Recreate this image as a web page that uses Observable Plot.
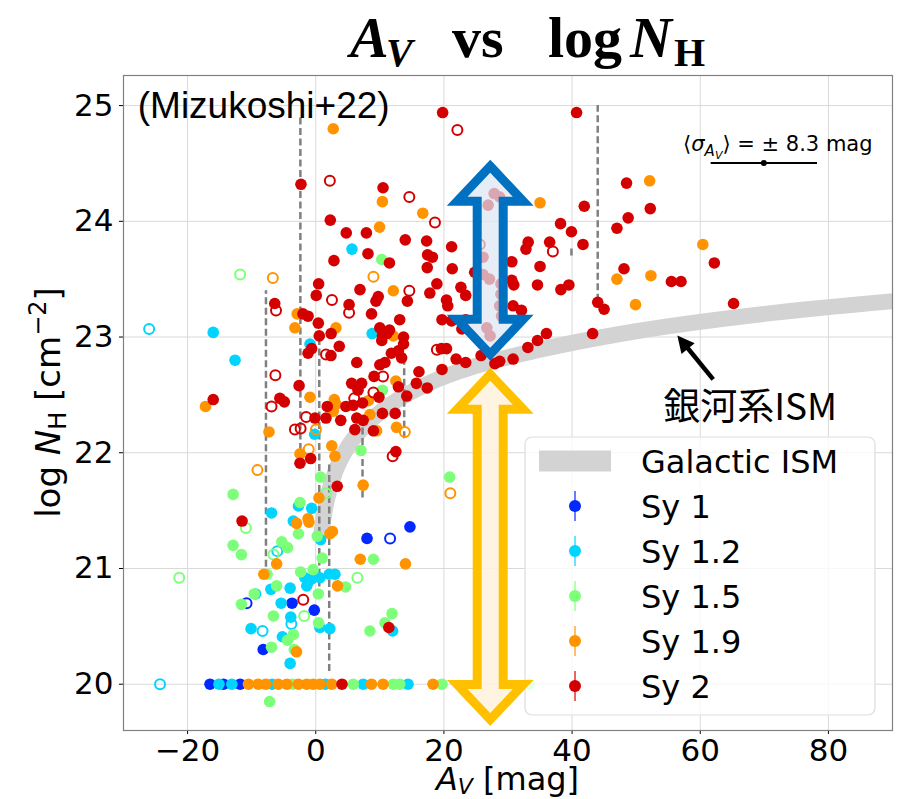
<!DOCTYPE html>
<html>
<head>
<meta charset="utf-8">
<script src="https://cdn.jsdelivr.net/npm/d3@7"></script>
<script src="https://cdn.jsdelivr.net/npm/@observablehq/plot@0.6"></script>
<style>
  body { margin: 0; background: #fff; }
  #chart svg { display: block; }
</style>
</head>
<body>
<div id="chart"></div>
<script>
// ---- axis ticks ----
const xTicks = [-20, 0, 20, 40, 60, 80];
const yTicks = [20, 21, 22, 23, 24, 25];

// ---- AGN samples: [A_V (mag), log N_H (cm^-2)] ----
const sy1 = [[-16.5,20],[-14.4,20],[-11.8,20],[8.0,21.26],[14.7,21.36],[-3.7,20.70],[-0.23,20.64],[-8.2,20.30]];
const sy1Open = [[11.6,21.26],[-10.8,20.70]];

const sy12 = [[-16.0,23.04],[-12.6,22.80],[5.65,23.76],[8.8,23.03],[-0.9,22.94],[-0.17,22.16],[-6.9,21.48],
  [-2.7,21.54],[-3.5,21.41],[-0.64,21.52],[0.76,21.25],[-1.7,20.92],[-0.64,20.91],[0.65,20.92],[2.1,20.95],
  [3.0,20.95],[-1.4,20.85],[-1.2,20.88],[-7.0,20.82],[-4.0,20.83],[-9.4,20.78],[-5.4,20.70],[-3.9,20.58],
  [0.65,20.49],[2.2,20.48],[-10.1,20.48],[12.0,20.46],[-5.2,20.41],[-4.0,20.18],
  [-15.1,20],[-13.1,20],[-6.8,20],[1.5,20],[7.4,20],[14.4,20]];
const sy12Open = [[-26.0,23.07],[-24.3,20],[-6.0,21.15],[-8.3,20.46],[-3.8,20.52]];

const sy15 = [[10.3,23.67],[10.4,22.54],[7.05,22.02],[0.76,21.79],[20.9,21.79],[-2.46,21.57],[-12.9,21.64],
  [-2.7,21.30],[0.23,21.28],[-12.9,21.20],[-11.6,21.12],[-5.3,21.23],[-4.4,21.18],[1.0,21.09],[9.0,21.08],
  [-7.6,20.95],[-2.36,20.97],[-0.4,20.99],[4.66,20.84],[-6.1,20.85],[-9.6,20.78],[-11.6,20.69],[0.4,20.78],
  [-6.6,20.59],[0.45,20.53],[8.45,20.46],[11.9,20.61],[10.8,20.53],[-3.5,20.43],[-4.4,20.38],[-6.9,20.32],
  [-3.35,20.30],[-7.2,19.85],
  [-3.6,20],[5.85,20],[12.1,20],[13.1,20],[19.7,20],[33.3,20]];
const sy15Open = [[-11.8,23.54],[1.6,21.65],[-10.9,21.35],[-6.6,21.12],[6.5,20.92],[-1.8,20.59],[-21.3,20.92]];

const sy19 = [[2.73,24.80],[10.4,24.17],[9.96,23.95],[16.7,24.07],[12.1,23.40],[-2.9,23.20],[-3.25,23.08],
  [3.15,23.08],[12.1,23.01],[12.5,22.62],[-0.9,22.48],[2.9,22.46],[3.15,22.42],[2.73,22.36],[8.2,22.45],
  [8.45,22.33],[9.5,22.19],[12.6,22.22],[-7.3,22.18],[-17.2,22.40],[-2.46,21.99],[2.5,22.06],[3.0,21.97],
  [7.4,21.72],[0.5,21.61],[-3.0,21.39],[-1.2,21.43],[-1.06,21.40],[2.2,21.30],[2.6,21.32],[-6.1,21.04],
  [6.95,21.08],[14.0,21.04],[-8.1,20.95],[3.4,20.85],[-3.0,20.28],
  [35.0,24.16],[52.1,24.35],[47.0,23.50],[52.3,23.53],[49.9,23.28],[60.4,23.80],
  [-10.5,20],[-9.0,20],[-7.8,20],[-5.85,20],[-4.5,20],[-2.7,20],[-1.4,20],[-0.4,20],[0.65,20],[2.5,20],
  [8.7,20],[10.5,20],[18.3,20]];
const sy19Open = [[-6.7,23.51],[9.0,23.52],[13.9,22.18],[0.03,22.20],[-1.1,22.03],[-9.1,21.85],[21.0,21.65]];

const sy2 = [[-2.31,24.32],[10.5,24.29],[2.27,24.01],[4.76,23.90],[7.9,23.90],[13.97,23.84],[8.15,23.72],
  [2.84,23.66],[11.5,23.64],[0.45,23.46],[0.08,23.36],[6.9,23.41],[5.2,23.28],[9.75,23.35],[9.4,23.31],
  [14.3,23.31],[-6.4,23.29],[19.8,24.94],[40.7,24.94],
  [17.3,23.83],[21.2,23.78],[17.45,23.71],[18.2,23.69],[17.4,23.60],[21.3,23.59],
  [18.9,23.46],[17.8,23.38],[22.65,23.43],[23.4,23.36],[8.7,23.20],[20.4,23.32],[20.6,23.27],
  [-2.0,23.20],[-1.2,23.18],[0.4,23.12],[0.55,23.01],[2.4,23.03],
  [13.1,23.15],[19.7,23.15],[21.2,23.14],[23.4,23.15],
  [10.0,23.08],[11.5,23.06],[11.1,23.03],[10.4,23.01],[13.7,23.0],
  [-0.64,22.90],[-1.2,22.86],[2.37,22.84],[3.67,22.92],[10.3,22.97],[13.7,22.94],
  [11.8,22.86],[12.9,22.88],[13.4,22.82],[6.4,22.78],[10.0,22.76],[10.8,22.78],
  [19.6,22.90],[20.4,22.90],[21.9,22.81],[23.4,22.78],[19.7,22.72],[16.1,22.70],[9.1,22.66],
  [-2.6,22.58],[5.6,22.60],[7.16,22.60],[6.6,22.54],[6.5,22.57],
  [12.9,22.57],[15.7,22.60],[17.4,22.56],[14.2,22.49],[-5.6,22.47],[-4.9,22.44],[9.86,22.48],
  [1.8,22.40],[4.7,22.40],[5.85,22.41],[7.3,22.43],
  [-0.12,22.30],[1.6,22.30],[3.9,22.28],[6.4,22.30],[7.4,22.28],[10.4,22.34],[12.4,22.34],
  [6.1,22.20],[9.0,22.19],[-2.46,21.91],[-0.8,21.95],[12.5,22.01],[3.35,21.71],
  [-16.0,22.46],[-11.5,21.41],[11.4,20.49],[4.1,20],
  [22.8,23.07],[36.0,23.03],[34.6,22.97],[33.1,22.91],[30.8,22.81],[28.7,22.79],[27.96,22.77],[25.8,22.84],
  [43.2,23.03],[44.0,23.30],[45.0,23.24],[28.7,23.27],[30.8,23.27],[32.1,23.23],[29.0,23.18],
  [41.9,24.13],[48.5,24.33],[52.2,24.11],[48.75,24.03],[47.0,23.94],[38.2,23.98],[39.9,23.91],
  [41.7,23.80],[33.15,23.82],[32.8,23.76],[36.5,23.82],[30.6,23.65],[24.8,23.56],[35.0,23.61],
  [48.1,23.59],[55.5,23.48],[57.0,23.48],[30.6,23.49],[30.9,23.45],[34.6,23.45],[38.25,23.41],[39.5,23.45],
  [27.85,24.24],[26.9,24.14],[28.7,24.21],[26.1,23.69],[27.1,23.50],[26.1,23.54],[28.9,23.46],[28.9,23.37],
  [26.7,23.08],[27.2,23.01],[62.2,23.64],[65.2,23.29]];
const sy2Open = [[2.2,24.35],[14.6,24.21],[18.6,23.99],[14.6,23.40],[2.53,23.32],[5.2,23.21],[-6.2,23.23],
  [1.6,22.85],[18.9,22.89],[10.5,22.66],[-6.3,22.67],[9.0,22.52],[6.0,22.47],[-6.9,22.40],[-1.5,22.31],
  [-3.25,22.20],[-2.36,22.21],[12.0,21.97],[22.1,24.79],[37.0,23.74],[-1.95,20.73],[25.6,23.80]];

// ---- Galactic ISM relation, sampled along the band ----
const ismCurve = [[0.9,21.30],[1.0,21.35],[1.5,21.53],[2,21.65],[3,21.83],[5,22.05],[8,22.25],[12,22.43],
  [18,22.61],[25,22.75],[35,22.89],[50,23.05],[70,23.20],[90,23.31]];

// ---- dashed ranges: [A_V, log N_H low, log N_H high] ----
const rangeSegments = [[-7.77,21.01,23.40],[-2.4,22.02,24.90],[0.55,20.75,23.00],[2.1,20.11,21.90],
  [7.3,21.61,22.22],[13.8,22.12,22.82],[44.0,23.31,25.0],[39.9,23.70,23.78]];

// ---- annotations ----
const sigmaBar = {center: 70, halfWidth: 8.3, y: 24.5, labelY: 24.6};
const blueSpan = {x: 27.3, y1: 22.847, y2: 24.472};
const yellowSpan = {x: 27.3, y1: 19.691, y2: 22.674};
const ismPointer = {from: [62.1, 22.63], to: [56.5, 23.01]};
const ismLabel = {x: 54.3, y: 22.28, text: "銀河系ISM"};
const refLabel = {x: -27.7, y: 24.89, text: "(Mizukoshi+22)"};

const seriesNames = ["Sy 1", "Sy 1.2", "Sy 1.5", "Sy 1.9", "Sy 2"];
const seriesColors = ["#0028ff", "#00d4ff", "#7dff7a", "#ff9400", "#d40000"];
const seriesFilled = [sy1, sy12, sy15, sy19, sy2];
const seriesOpen = [sy1Open, sy12Open, sy15Open, sy19Open, sy2Open];

const px = d => d[0], py = d => d[1];

function addText(parent, attrs, parts) {
  const t = parent.append("text").attr("xml:space", "preserve").attr("text-anchor", "start");
  for (const [k, v] of Object.entries(attrs)) t.attr(k, v);
  for (const p of parts) {
    const s = t.append("tspan").text(p.t);
    if (p.italic) s.attr("font-style", "italic");
    if (p.size) s.attr("font-size", p.size);
    if (p.dy) s.attr("dy", p.dy);
    if (p.x != null) s.attr("x", p.x);
  }
  return t;
}

// Double-headed block arrow along a vertical data span
function blockArrow(g, scales, span, stroke, fill, fillOpacity) {
  const cx = scales.x(span.x), top = scales.y(span.y2), bot = scales.y(span.y1);
  const L = 35, H = 33, S = 13;
  const pts = [[cx, top], [cx + H, top + L], [cx + S, top + L], [cx + S, bot - L], [cx + H, bot - L],
    [cx, bot], [cx - H, bot - L], [cx - S, bot - L], [cx - S, top + L], [cx - H, top + L]];
  g.append("polygon").attr("points", pts.map(p => p.join(",")).join(" "))
    .attr("fill", fill).attr("fill-opacity", fillOpacity)
    .attr("stroke", stroke).attr("stroke-width", 9)
    .attr("stroke-linejoin", "miter").attr("stroke-miterlimit", 10);
}

function legendMark(index, scales, values, dims) {
  const g = d3.create("svg:g").attr("text-anchor", "start");
  const right = dims.width - dims.marginRight, bottom = dims.height - dims.marginBottom;
  const x0 = right - 367, y0 = bottom - 293;
  g.append("rect").attr("x", x0).attr("y", y0).attr("width", 350).attr("height", 278)
    .attr("rx", 7).attr("fill", "white").attr("fill-opacity", 0.8)
    .attr("stroke", "#dddddd").attr("stroke-width", 1.2);
  const rowY = i => y0 + 24 + 45 * i;
  g.append("rect").attr("x", x0 + 14).attr("y", rowY(0) - 10.5).attr("width", 72).attr("height", 21)
    .attr("fill", "#d3d3d3");
  g.append("text").attr("x", x0 + 116).attr("y", rowY(0) + 11.5).attr("font-size", 32)
    .attr("font-family", "DejaVu Sans").text("Galactic ISM");
  seriesNames.forEach((name, i) => {
    const cy = rowY(i + 1), hx = x0 + 50;
    g.append("line").attr("x1", hx).attr("x2", hx).attr("y1", cy - 15).attr("y2", cy + 15)
      .attr("stroke", seriesColors[i]).attr("stroke-opacity", 0.6).attr("stroke-width", 2);
    g.append("circle").attr("cx", hx).attr("cy", cy).attr("r", 6).attr("fill", seriesColors[i]);
    g.append("text").attr("x", x0 + 116).attr("y", cy + 11.5).attr("font-size", 32)
      .attr("font-family", "DejaVu Sans").text(name);
  });
  return g.node();
}

function annotationMark(index, scales, values, dims) {
  const g = d3.create("svg:g").attr("text-anchor", "start");
  const {x, y} = scales;
  const frameCx = (dims.marginLeft + dims.width - dims.marginRight) / 2;
  const frameCy = (dims.marginTop + dims.height - dims.marginBottom) / 2;

  // mean A_V uncertainty bar
  const sy = y(sigmaBar.y);
  g.append("line").attr("x1", x(sigmaBar.center - sigmaBar.halfWidth)).attr("x2", x(sigmaBar.center + sigmaBar.halfWidth))
    .attr("y1", sy).attr("y2", sy).attr("stroke", "black").attr("stroke-width", 2);
  g.append("circle").attr("cx", x(sigmaBar.center)).attr("cy", sy).attr("r", 3).attr("fill", "black");
  addText(g, {x: x(sigmaBar.center) + 14, y: y(sigmaBar.labelY), "text-anchor": "middle",
      "font-family": "DejaVu Sans", "font-size": 21}, [
    {t: "⟨"}, {t: "σ", italic: true}, {t: "A", italic: true, size: 15, dy: 5},
    {t: "V", italic: true, size: 11, dy: 3}, {t: "⟩ = ", dy: -8}, {t: "± 8.3 mag"}
  ]);

  // reference tag
  g.append("text").attr("x", x(refLabel.x)).attr("y", y(refLabel.y)).attr("font-family", "Liberation Sans")
    .attr("font-size", 37).text(refLabel.text);

  // block arrows
  blockArrow(g, scales, blueSpan, "#0070c0", "#dce6f2", 0.72);
  blockArrow(g, scales, yellowSpan, "#ffc000", "#fff2dc", 0.85);

  // pointer to the Galactic ISM band
  const [tx0, ty0] = [x(ismPointer.from[0]), y(ismPointer.from[1])];
  const [tx1, ty1] = [x(ismPointer.to[0]), y(ismPointer.to[1])];
  const dx = tx1 - tx0, dy = ty1 - ty0, len = Math.hypot(dx, dy);
  const ux = dx / len, uy = dy / len, hl = 17, hw = 8.5;
  const bx = tx1 - ux * hl, by = ty1 - uy * hl;
  g.append("line").attr("x1", tx0).attr("y1", ty0).attr("x2", bx + ux * 2).attr("y2", by + uy * 2)
    .attr("stroke", "black").attr("stroke-width", 4.5);
  g.append("polygon").attr("points", [[tx1, ty1], [bx - uy * hw, by + ux * hw], [bx + uy * hw, by - ux * hw]]
    .map(p => p.join(",")).join(" ")).attr("fill", "black");
  g.append("text").attr("x", x(ismLabel.x)).attr("y", y(ismLabel.y)).attr("font-family", "Noto Sans CJK JP")
    .attr("font-size", 37).text(ismLabel.text);

  // axis titles
  addText(g, {x: frameCx, y: dims.height - 9, "text-anchor": "middle", "font-family": "DejaVu Sans", "font-size": 32}, [
    {t: "A", italic: true}, {t: "V", italic: true, size: 22, dy: 4}, {t: " [mag]", dy: -4}
  ]);
  addText(g, {transform: `translate(60,${frameCy}) rotate(-90)`, x: 0, y: 0, "text-anchor": "middle",
      "font-family": "DejaVu Sans", "font-size": 34}, [
    {t: "log "}, {t: "N", italic: true}, {t: "H", size: 24, dy: 6}, {t: " [cm", dy: -6},
    {t: "−2", size: 24, dy: -14}, {t: "]", dy: 14}
  ]);

  // title
  addText(g, {y: 57, "font-family": "Liberation Serif", "font-weight": "bold", "font-size": 58}, [
    {t: "A", italic: true, x: 350}, {t: "V", italic: true, size: 40, dy: 9, x: 386},
    {t: "vs", dy: -9, x: 452}, {t: "log", x: 548}, {t: "N", italic: true, x: 630},
    {t: "H", size: 40, dy: 9, x: 674}
  ]);
  return g.node();
}

const dotMarks = [];
seriesFilled.forEach((data, i) => {
  dotMarks.push(Plot.dot(data, {x: px, y: py, r: 5.8, fill: seriesColors[i]}));
  dotMarks.push(Plot.dot(seriesOpen[i], {x: px, y: py, r: 5, fill: "none", stroke: seriesColors[i], strokeWidth: 2}));
});

const chart = Plot.plot({
  width: 900,
  height: 799,
  marginLeft: 123,
  marginRight: 8,
  marginTop: 75,
  marginBottom: 69,
  style: {fontFamily: "DejaVu Sans", fontSize: "31px", color: "black", background: "white"},
  x: {domain: [-30, 90], ticks: xTicks, tickSize: 4, tickPadding: 4, label: null},
  y: {domain: [19.6, 25.26], ticks: yTicks, tickFormat: d => String(d), tickSize: 4, tickPadding: 6, label: null},
  marks: [
    Plot.ruleX(xTicks, {stroke: "#d9d9d9", strokeWidth: 1}),
    Plot.ruleY(yTicks, {stroke: "#d9d9d9", strokeWidth: 1}),
    Plot.line(ismCurve, {x: px, y: py, stroke: "#d3d3d3", strokeWidth: 16, curve: "monotone-x", strokeLinecap: "butt", clip: true}),
    Plot.ruleX(rangeSegments, {x: d => d[0], y1: d => d[1], y2: d => d[2], stroke: "#808080", strokeWidth: 2.5, strokeDasharray: "7,3.5"}),
    ...dotMarks,
    Plot.frame({stroke: "#808080", strokeWidth: 1.2}),
    legendMark,
    annotationMark
  ]
});
document.getElementById("chart").appendChild(chart);
</script>
</body>
</html>
